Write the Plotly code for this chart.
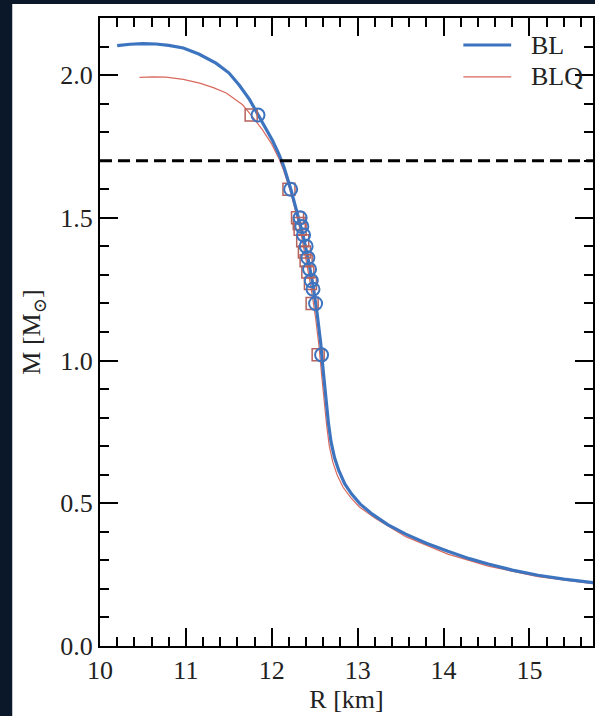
import plotly.graph_objects as go

# Mass-radius relations for the two equations of state
r_bl = [10.20, 10.35, 10.50, 10.65, 10.80, 10.97, 11.15, 11.35, 11.50, 11.62, 11.74,
        11.84, 11.93, 12.01, 12.08, 12.14, 12.22, 12.30, 12.36, 12.42, 12.48, 12.53,
        12.57, 12.60, 12.63, 12.66, 12.69, 12.73, 12.78, 12.85, 12.93, 13.03, 13.17,
        13.35, 13.56, 13.80, 14.05, 14.30, 14.52, 14.80, 15.10, 15.40, 15.80]
m_bl = [2.103, 2.108, 2.110, 2.109, 2.104, 2.095, 2.074, 2.042, 2.008, 1.965, 1.915,
        1.862, 1.815, 1.770, 1.725, 1.680, 1.602, 1.515, 1.445, 1.360, 1.265, 1.160,
        1.060, 0.960, 0.860, 0.780, 0.715, 0.660, 0.615, 0.568, 0.532, 0.497, 0.462,
        0.425, 0.392, 0.360, 0.332, 0.306, 0.287, 0.266, 0.248, 0.234, 0.220]

r_blq = [10.46, 10.62, 10.77, 10.97, 11.16, 11.32, 11.47, 11.58, 11.66, 11.76, 11.89,
         12.00, 12.08, 12.14, 12.21, 12.28, 12.34, 12.40, 12.46, 12.51, 12.55, 12.58,
         12.61, 12.64, 12.67, 12.71, 12.76, 12.83, 12.92, 13.02, 13.20, 13.56, 14.05,
         14.52, 15.10, 15.80]
m_blq = [1.992, 1.994, 1.993, 1.985, 1.972, 1.956, 1.937, 1.915, 1.896, 1.860, 1.809,
         1.758, 1.710, 1.665, 1.600, 1.520, 1.445, 1.350, 1.250, 1.150, 1.050, 0.950,
         0.850, 0.770, 0.700, 0.645, 0.600, 0.556, 0.520, 0.487, 0.448, 0.383, 0.322,
         0.280, 0.243, 0.216]

# Individual stellar configurations
r_bl_pts = [11.84, 12.22, 12.33, 12.35, 12.37, 12.40, 12.42, 12.44, 12.46, 12.48, 12.51, 12.58]
m_bl_pts = [1.86, 1.60, 1.50, 1.47, 1.44, 1.40, 1.36, 1.32, 1.28, 1.25, 1.20, 1.02]
r_blq_pts = [11.76, 12.20, 12.30, 12.32, 12.33, 12.36, 12.38, 12.40, 12.42, 12.45, 12.47, 12.54]
m_blq_pts = [1.86, 1.60, 1.50, 1.48, 1.46, 1.42, 1.38, 1.35, 1.31, 1.27, 1.20, 1.02]

M_LIMIT = 1.7

x_ticks = [10, 11, 12, 13, 14, 15]
y_ticks = [0.0, 0.5, 1.0, 1.5, 2.0]

BLUE = "#3d74bf"
RED = "#d9695e"
SQ = "#b5625c"
NAVY = "#0b1829"
FONT = "'Liberation Serif', 'DejaVu Serif', serif"
TXT = "#222222"
FS = 26

fig = go.Figure()

fig.add_trace(go.Scatter(x=r_blq, y=m_blq, mode="lines", line=dict(color=RED, width=1.2),
                         showlegend=False))
fig.add_trace(go.Scatter(x=r_bl, y=m_bl, mode="lines", line=dict(color=BLUE, width=3.2),
                         showlegend=False))
fig.add_trace(go.Scatter(x=r_blq_pts, y=m_blq_pts, mode="markers",
                         marker=dict(symbol="square-open", size=12, color=SQ,
                                     line=dict(width=1.5, color=SQ)), showlegend=False))
fig.add_trace(go.Scatter(x=r_bl_pts, y=m_bl_pts, mode="markers",
                         marker=dict(symbol="circle-open", size=13, color=BLUE,
                                     line=dict(width=2, color=BLUE)), showlegend=False))

fig.add_hline(y=M_LIMIT, line=dict(color="black", width=3, dash="12px,6px"))

# white panel behind the whole chart
fig.add_shape(type="rect", xref="paper", yref="paper", x0=-0.178, x1=1.05, y0=-0.2, y1=1.0223,
              fillcolor="white", line=dict(width=0), layer="below")

# legend drawn by hand
legend = [("BL", BLUE, 3.2, 0.9570), ("BLQ", RED, 1.2, 0.9061)]
for name, col, w, yy in legend:
    fig.add_shape(type="line", xref="paper", yref="paper", x0=0.737, x1=0.834, y0=yy, y1=yy,
                  line=dict(color=col, width=w))
    fig.add_annotation(xref="paper", yref="paper", x=0.87, y=yy, text=name, showarrow=False,
                       xanchor="left", yanchor="middle", font=dict(family=FONT, size=FS, color=TXT))

axis_common = dict(showline=True, linecolor="black", linewidth=2, mirror="ticks",
                   ticks="inside", ticklen=18, tickwidth=2, tickcolor="black",
                   showgrid=False, zeroline=False,
                   tickfont=dict(family=FONT, size=FS, color=TXT))

fig.update_xaxes(range=[10, 15.74], tickvals=x_ticks, ticktext=[str(v) for v in x_ticks],
                 minor=dict(ticks="inside", ticklen=9, tickwidth=1.5, tickcolor="black", dtick=0.2, tick0=10),
                 title=dict(text="R [km]", font=dict(family=FONT, size=FS, color=TXT), standoff=4),
                 **axis_common)
fig.update_yaxes(range=[0, 2.2], tickvals=y_ticks, ticktext=[f"{v:.1f}" for v in y_ticks],
                 minor=dict(ticks="inside", ticklen=9, tickwidth=1.5, tickcolor="black", dtick=0.1, tick0=0),
                 title=dict(text="M [M<sub>⊙</sub>]", font=dict(family=FONT, size=FS, color=TXT), standoff=12),
                 **axis_common)

fig.update_layout(width=595, height=716, margin=dict(l=100, r=0, t=18, b=70),
                  paper_bgcolor=NAVY, plot_bgcolor="white", showlegend=False,
                  font=dict(family=FONT, color=TXT))

fig.write_html("out.html")
